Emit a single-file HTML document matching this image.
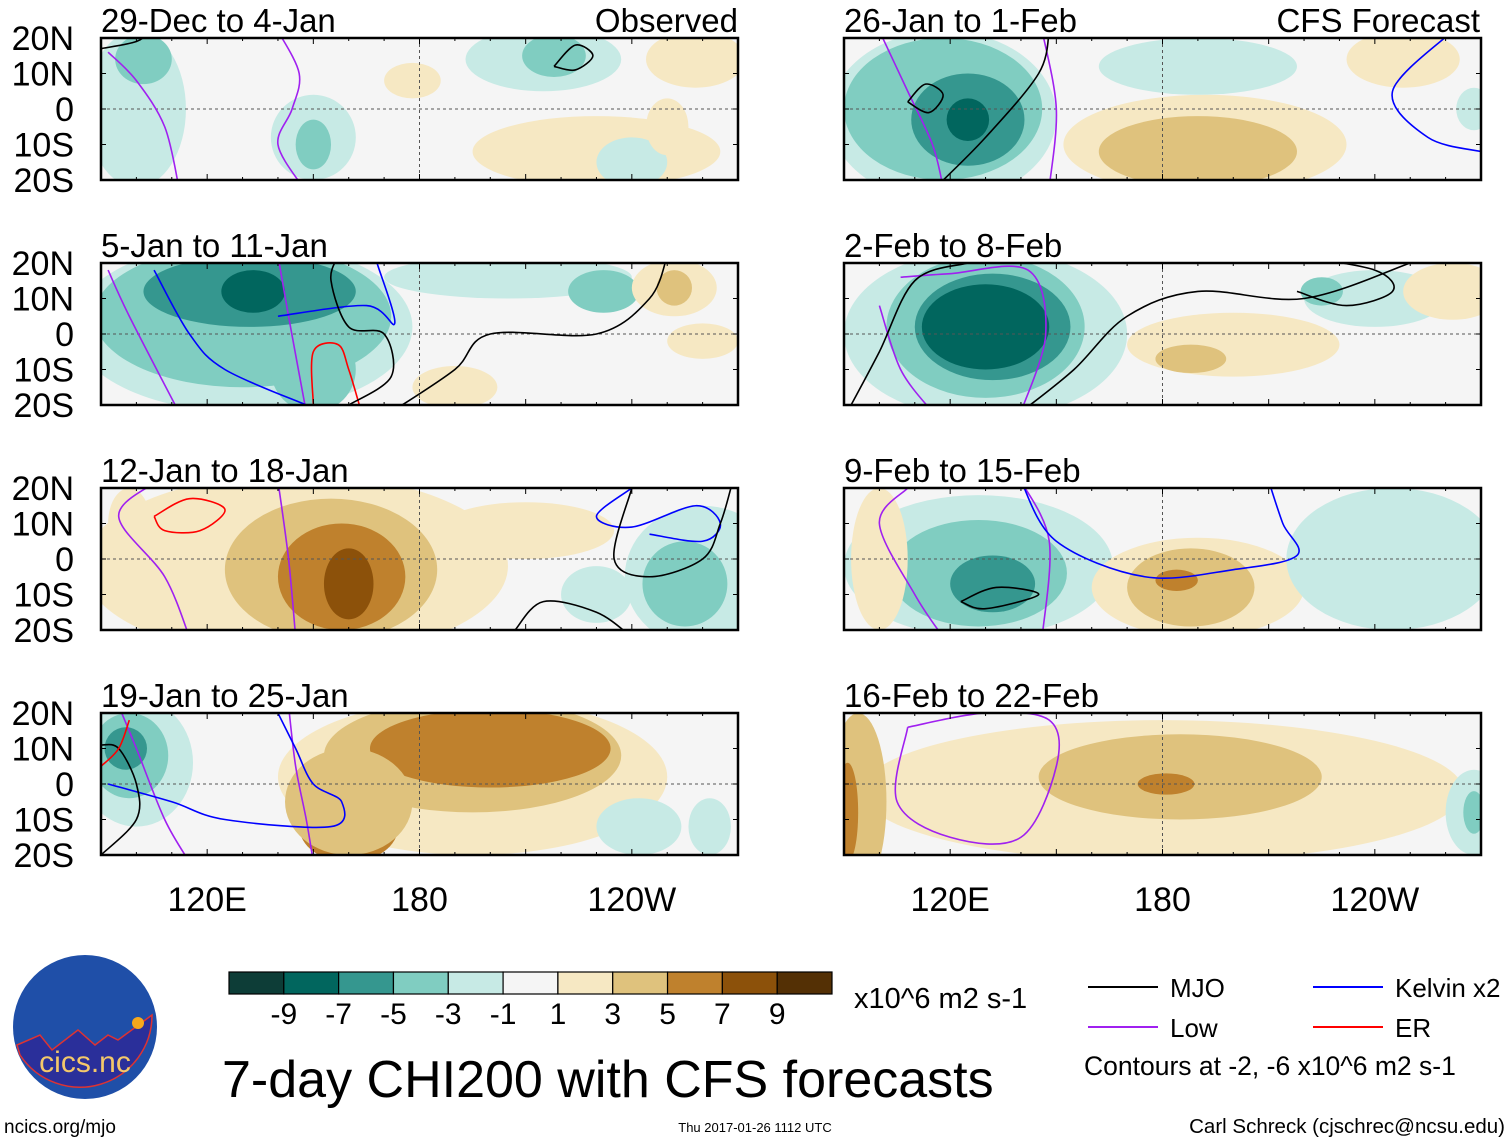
<!DOCTYPE html>
<html><head><meta charset="utf-8">
<style>
body{margin:0;background:#fff;}
svg{display:block;font-family:"Liberation Sans",Arial,sans-serif;}
</style></head>
<body>
<svg id="chart" width="1510" height="1142" viewBox="0 0 1510 1142"></svg>
<script>
// ---- data ----
const levelColors = ["#0d3d37","#01665e","#35978f","#80cdc1","#c7eae5","#f5f5f5","#f6e8c3","#dfc27d","#bf812d","#8c510a","#543005"];
const levelTicks = ["-9","-7","-5","-3","-1","1","3","5","7","9"];
const panelTitles = ["29-Dec to 4-Jan","5-Jan to 11-Jan","12-Jan to 18-Jan","19-Jan to 25-Jan","26-Jan to 1-Feb","2-Feb to 8-Feb","9-Feb to 15-Feb","16-Feb to 22-Feb"];
const latTicks = [20,10,0,-10,-20];
const latLabels = ["20N","10N","0","10S","20S"];
const lonTicks = [120,180,240];
const lonLabels = ["120E","180","120W"];
// blobs: [lon, lat, halfWidthDeg, halfHeightDeg, levelIndex]
const blobs0 = [[100,0,14,22,4],[102,14,8,7,3],[150,-8,12,12,4],[150,-10,5,7,3],[215,14,22,9,4],[218,15,9,6,3],[230,-12,35,10,6],[178,8,8,5,6],[240,-15,10,7,4],[258,14,14,8,6],[250,-5,6,8,6]];
const blobs1 = [[130,2,48,24,4],[130,5,42,20,3],[132,12,30,10,2],[133,12,9,6,1],[150,-10,12,12,3],[205,16,35,6,4],[232,12,10,6,3],[252,13,12,8,6],[252,13,5,5,7],[190,-15,12,6,6],[260,-2,10,5,6]];
const blobs2 = [[145,-2,60,26,6],[155,-3,30,20,7],[158,-5,18,15,8],[160,-7,7,10,9],[210,8,25,8,6],[260,-5,22,20,4],[255,-7,12,12,3],[230,-10,10,8,4],[98,10,6,10,6]];
const blobs3 = [[100,6,16,18,4],[98,8,11,12,3],[97,10,6,6,2],[195,2,55,22,6],[195,8,42,16,7],[200,10,34,11,8],[160,-12,14,10,8],[160,-5,18,15,7],[242,-12,12,8,4],[262,-12,6,8,4]];
const blobs4 = [[118,-2,32,24,4],[118,0,28,20,3],[125,-3,16,13,2],[125,-3,6,6,1],[192,-10,40,14,6],[190,-12,28,10,7],[190,12,28,8,4],[248,14,16,8,6],[268,0,5,6,4]];
const blobs5 = [[130,0,40,24,4],[130,2,28,20,3],[132,2,22,15,2],[130,2,18,12,1],[240,10,20,8,4],[225,12,6,4,3],[200,-3,30,9,6],[188,-7,10,4,7],[262,12,14,8,6]];
const blobs6 = [[128,-2,38,20,4],[128,-4,25,15,3],[132,-7,12,8,2],[190,-8,30,14,6],[188,-8,18,11,7],[184,-6,6,3,8],[245,0,30,20,4],[100,0,8,20,6]];
const blobs7 = [[180,-2,85,20,6],[185,2,40,12,7],[181,0,8,3,8],[94,-5,8,25,7],[91,-8,3,14,8],[268,-8,8,12,4],[268,-8,3,6,3]];
const panelBlobs = [blobs0,blobs1,blobs2,blobs3,blobs4,blobs5,blobs6,blobs7];
// contours: [color, points(lon,lat)...]
const lines0 = [["#a020f0",[[140,22],[146,10],[144,0],[140,-10],[147,-22]]],["#a020f0",[[92,16],[100,8],[108,-5],[112,-22]]],["#000",[[218,12],[224,18],[229,15],[224,11],[218,12]]],["#000",[[90,17],[100,19],[104,22]]]];
const lines1 = [["#a020f0",[[140,22],[143,5],[148,-22]]],["#a020f0",[[92,18],[98,5],[112,-22]]],["#0000ff",[[105,18],[115,0],[125,-10],[148,-20]]],["#0000ff",[[140,5],[165,8],[173,3],[168,20]]],["#ff0000",[[150,-20],[150,-5],[157,-3],[160,-10],[163,-20]]],["#000",[[160,-20],[172,-12],[170,0],[160,2],[155,15],[157,22]]],["#000",[[172,-22],[190,-10],[200,0],[230,0],[245,10],[250,22]]]];
const lines2 = [["#a020f0",[[106,22],[95,12],[108,-5],[115,-22]]],["#a020f0",[[140,22],[143,0],[145,-22]]],["#ff0000",[[105,12],[115,17],[125,14],[118,8],[108,8],[105,12]]],["#0000ff",[[240,20],[230,12],[240,9],[258,15],[265,10],[260,5],[245,7]]],["#000",[[240,20],[235,0],[245,-5],[260,0],[265,10],[268,20]]],["#000",[[207,-20],[215,-12],[230,-15],[240,-22]]]];
const lines3 = [["#a020f0",[[95,22],[100,10],[108,-10],[115,-22]]],["#a020f0",[[143,22],[145,5],[148,-10],[150,-22]]],["#0000ff",[[92,0],[110,-5],[125,-10],[155,-12],[158,-5],[150,0],[145,10],[140,20]]],["#000",[[90,-20],[100,-10],[100,0],[95,10],[90,11]]],["#ff0000",[[90,5],[95,10],[98,18]]]];
const lines4 = [["#a020f0",[[100,22],[108,5],[115,-10],[118,-22]]],["#a020f0",[[146,22],[150,0],[148,-22]]],["#000",[[116,-22],[130,-8],[145,10],[148,22]]],["#000",[[108,2],[113,7],[118,4],[114,-1],[108,2]]],["#0000ff",[[262,22],[245,5],[255,-8],[270,-12]]]];
const lines5 = [["#a020f0",[[106,16],[120,17],[142,18],[147,0],[140,-22]]],["#a020f0",[[100,8],[106,-10],[115,-22]]],["#000",[[92,-20],[100,-5],[110,15],[125,20]]],["#000",[[140,-22],[155,-10],[170,5],[190,12],[220,10],[250,20]]],["#000",[[218,22],[240,18],[245,12],[232,8],[218,12]]]];
const lines6 = [["#a020f0",[[108,20],[100,10],[110,-10],[118,-22]]],["#a020f0",[[140,22],[148,5],[146,-22]]],["#0000ff",[[140,22],[150,5],[175,-5],[200,-3],[218,1],[214,10],[210,22]]],["#000",[[123,-12],[133,-8],[145,-10],[130,-14],[123,-12]]]];
const lines7 = [["#a020f0",[[108,16],[130,20],[148,18],[150,5],[140,-15],[120,-15],[105,-5],[108,16]]]];
const panelLines = [lines0,lines1,lines2,lines3,lines4,lines5,lines6,lines7];
const legendItems = [["MJO","#000"],["Kelvin x2","#0000ff"],["Low","#a020f0"],["ER","#ff0000"]];

// ---- layout / axes ----
const NS="http://www.w3.org/2000/svg";
const svg=document.getElementById('chart');
function el(tag,attrs,parent){const e=document.createElementNS(NS,tag);for(const k in attrs)e.setAttribute(k,attrs[k]);(parent||svg).appendChild(e);return e;}
const panelW=637, panelH=142;
const colX=[101,844], rowY=[38,263,488,713];
function xScale(px,lon){return px + (lon-90)*panelW/180;}
function yScale(py,lat){return py + (20-lat)*panelH/40;}
function smoothPath(pts){let d="M"+pts[0][0]+","+pts[0][1];for(let i=0;i<pts.length-1;i++){const p0=pts[Math.max(i-1,0)],p1=pts[i],p2=pts[i+1],p3=pts[Math.min(i+2,pts.length-1)];const c1=[p1[0]+(p2[0]-p0[0])/6,p1[1]+(p2[1]-p0[1])/6],c2=[p2[0]-(p3[0]-p1[0])/6,p2[1]-(p3[1]-p1[1])/6];d+=` C${c1[0]},${c1[1]} ${c2[0]},${c2[1]} ${p2[0]},${p2[1]}`;}return d;}
const defs=el('defs',{});
for(let p=0;p<8;p++){
  const col=p<4?0:1,row=p%4,px=colX[col],py=rowY[row];
  const cp=el('clipPath',{id:'clip'+p},defs);el('rect',{x:px,y:py,width:panelW,height:panelH},cp);
  const g=el('g',{'clip-path':`url(#clip${p})`});
  
  
  el('rect',{x:px,y:py,width:panelW,height:panelH,fill:levelColors[5]},g);
  panelBlobs[p].forEach(b=>{
    const e=el('ellipse',{cx:xScale(px,b[0]),cy:yScale(py,b[1]),rx:b[2]*panelW/180,ry:b[3]*panelH/40,fill:levelColors[b[4]]},g);
    
    
  });
  el('line',{x1:px,x2:px+panelW,y1:yScale(py,0),y2:yScale(py,0),stroke:'#555','stroke-width':1,'stroke-dasharray':'3,3'},g);
  el('line',{x1:xScale(px,180),x2:xScale(px,180),y1:py,y2:py+panelH,stroke:'#555','stroke-width':1,'stroke-dasharray':'3,3'},g);
  panelLines[p].forEach(l=>{
    const pts=l[1].map(q=>[xScale(px,q[0]),yScale(py,q[1])]);
    const c=el('path',{d:smoothPath(pts),fill:'none',stroke:l[0],'stroke-width':1.6},g);
    
    
  });
  el('rect',{x:px,y:py,width:panelW,height:panelH,fill:'none',stroke:'#000','stroke-width':2.5});
  for(let lon=90;lon<=270;lon+=10){const x=xScale(px,lon);const len=lon%30==0?6:3;el('line',{x1:x,x2:x,y1:py,y2:py+len,stroke:'#000'});el('line',{x1:x,x2:x,y1:py+panelH,y2:py+panelH-len,stroke:'#000'});}
  latTicks.forEach(lat=>{const y=yScale(py,lat);el('line',{x1:px,x2:px+5,y1:y,y2:y,stroke:'#000'});el('line',{x1:px+panelW,x2:px+panelW-5,y1:y,y2:y,stroke:'#000'});});
  const t=el('text',{x:px,y:py-6,'font-size':33,fill:'#000'});t.textContent=panelTitles[p];
  
  
  if(col==0){latTicks.forEach((lat,i)=>{const tt=el('text',{x:74,y:yScale(py,lat)+12,'font-size':34,'text-anchor':'end'});tt.textContent=latLabels[i];
    
    });}
}
[["Observed",738],["CFS Forecast",1480]].forEach(a=>{const t=el('text',{x:a[1],y:32,'font-size':33,'text-anchor':'end'});t.textContent=a[0];
  
  });
colX.forEach(px=>lonTicks.forEach((lon,i)=>{const t=el('text',{x:xScale(px,lon),y:911,'font-size':34,'text-anchor':'middle'});t.textContent=lonLabels[i];
  
  }));
// colorbar
const cb=el('g',{});
const cbx=229,cbw=603/11;
levelColors.forEach((c,i)=>el('rect',{x:cbx+i*cbw,y:972,width:cbw,height:22,fill:c,stroke:'#000','stroke-width':1.2},cb));
levelTicks.forEach((t,i)=>{const tx=el('text',{x:cbx+(i+1)*cbw,y:1024,'font-size':30,'text-anchor':'middle'},cb);tx.textContent=t;});
const un=el('text',{x:854,y:1008,'font-size':29});un.textContent="x10^6 m2 s-1";
const mt=el('text',{x:222,y:1097,'font-size':52});mt.textContent="7-day CHI200 with CFS forecasts";
// legend
const lp=[[1088,987],[1313,987],[1088,1027],[1313,1027]];
legendItems.forEach((it,i)=>{const g=el('g',{});
  el('line',{x1:lp[i][0],x2:lp[i][0]+70,y1:lp[i][1],y2:lp[i][1],stroke:it[1],'stroke-width':2},g);
  const t=el('text',{x:lp[i][0]+82,y:lp[i][1]+10,'font-size':26},g);t.textContent=it[0];});
const ct=el('text',{x:1084,y:1075,'font-size':26.5});ct.textContent="Contours at -2, -6 x10^6 m2 s-1";
const f1=el('text',{x:4,y:1133,'font-size':19});f1.textContent="ncics.org/mjo";
const f2=el('text',{x:755,y:1132,'font-size':13,'text-anchor':'middle'});f2.textContent="Thu 2017-01-26 1112 UTC";
const f3=el('text',{x:1505,y:1133,'font-size':20.5,'text-anchor':'end'});f3.textContent="Carl Schreck (cjschrec@ncsu.edu)";
// logo
const lg=el('g',{});
el('circle',{cx:85,cy:1027,r:72,fill:'#1f4fa8'},lg);
el('path',{d:"M17,1045 L40,1035 L52,1050 L78,1030 L95,1045 L108,1035 L118,1040 L152,1015 A72,72 0 0 1 20,1055 Z",fill:'#2a2f9a',stroke:'#d33','stroke-width':1.5},lg);
el('circle',{cx:138,cy:1023,r:6,fill:'#f7a81b'},lg);
const lt=el('text',{x:85,y:1072,'font-size':30,'text-anchor':'middle',fill:'#f4c86a'},lg);lt.textContent="cics.nc";
</script>
</body></html>
